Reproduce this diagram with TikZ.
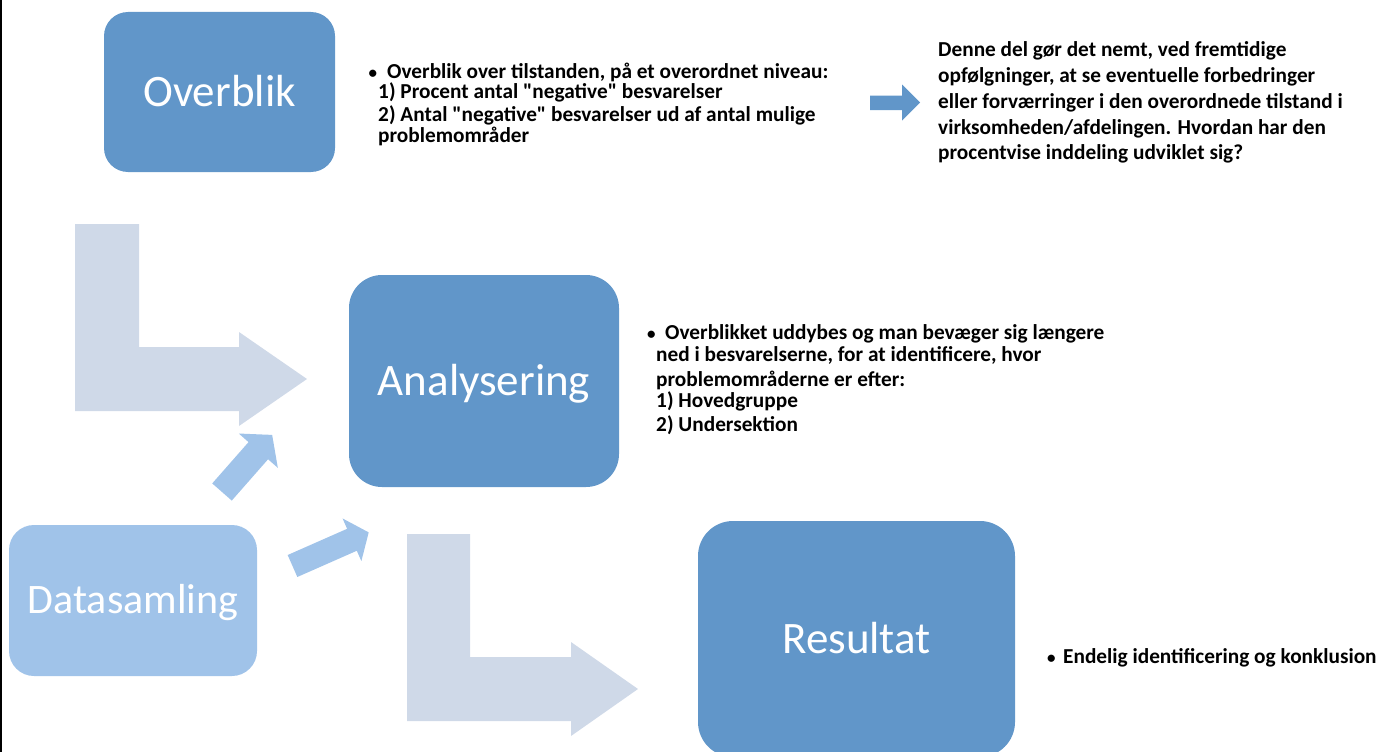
\documentclass[tikz,border=0pt]{standalone}
\usepackage{fontspec}
\newfontfamily\calfont{Carlito}
\definecolor{boxblue}{RGB}{97,150,201}
\definecolor{lightblue}{RGB}{160,195,233}
\definecolor{lgrey}{RGB}{207,217,232}
\tikzset{
  box/.style={rectangle, fill=boxblue, draw=none, text=white,
    font=\calfont\fontsize{45}{54}\selectfont, text height=28.8pt, text depth=0pt, inner sep=0pt},
  txt/.style={anchor=base west, inner sep=0pt, text=black, font=\calfont\bfseries\fontsize{21.3}{25}\selectfont},
  bent/.style={fill=lgrey, draw=none},
  small/.style={fill=lightblue, draw=none},
}
\newcommand{\bul}[2]{\makebox[0pt][l]{\hspace*{#1}\raisebox{-0.4pt}{\fontsize{17}{17}\bfseries\selectfont •}}\hspace*{#2}}
\newcommand{\lineblock}[2]{\vtop{\baselineskip=#1\relax\lineskiplimit=-\maxdimen\lineskip=0pt #2}}
\begin{document}
\begin{tikzpicture}[x=1pt,y=-1pt]
\useasboundingbox (0,0) rectangle (1392,752);
\clip (0,0) rectangle (1392,752);
\fill[black] (0,0) rectangle (2,752);

% bent arrows
\fill[bent] (75,224) -- (139,224) -- (139,347) -- (239,347) -- (239,332) -- (307,379)
  -- (239,426) -- (239,411) -- (75,411) -- cycle;
\fill[bent] (407,534) -- (470,534) -- (470,657) -- (571,657) -- (571,642) -- (638,689)
  -- (571,736) -- (571,721) -- (407,721) -- cycle;

% small arrows from Datasamling
\begin{scope}[shift={(222,492)}, rotate=48.7]
  \fill[small] (0,-13) -- (55,-13) -- (55,-26) -- (76,0) -- (55,26) -- (55,13) -- (0,13) -- cycle;
\end{scope}
\begin{scope}[shift={(292.5,566)}, rotate=23.8]
  \fill[small] (0,-12) -- (65,-12) -- (65,-23.3) -- (83.3,0) -- (65,23.3) -- (65,12) -- (0,12) -- cycle;
\end{scope}

% top blue arrow
\fill[boxblue] (870,95.5) -- (902,95.5) -- (902,84.5) -- (920,102.5) -- (902,120.5)
  -- (902,110) -- (870,110) -- cycle;

% boxes
\node[box, minimum width=231pt, minimum height=160pt, rounded corners=24pt] (overblik) at (219.5,92) {Overblik};
\node[box, minimum width=270pt, minimum height=212pt, rounded corners=33pt] (analyse) at (484,381) {Analysering};
\node[box, fill=lightblue, minimum width=248pt, minimum height=151pt, rounded corners=25pt,
  font=\calfont\fontsize{42}{50}\selectfont, text height=26.9pt] (data) at (133,600.5) {Datasamling};
\node[box, minimum width=317pt, minimum height=236pt, rounded corners=35pt] (result) at (856.5,639) {Resultat};

% texts
\node[txt] (t1) at (378,78) {\lineblock{20pt}{%
\hbox{\bul{-9.5pt}{9pt}Overblik over tilstanden, på et overordnet niveau:}
\hbox{1) Procent antal "negative" besvarelser}\vskip3pt
\hbox{2) Antal "negative" besvarelser ud af antal mulige}\vskip1pt
\hbox{problemområder}}};

\node[txt] (t0) at (938,56.7) {\lineblock{25.8pt}{%
\hbox{Denne del gør det nemt, ved fremtidige}
\hbox{opfølgninger, at se eventuelle forbedringer}
\hbox{eller forværringer i den overordnede tilstand i}
\hbox{virksomheden/afdelingen. Hvordan har den}
\hbox{procentvise inddeling udviklet sig?}}};

\node[txt] (t2) at (656,339) {\lineblock{21pt}{%
\hbox{\bul{-9pt}{9pt}Overblikket uddybes og man bevæger sig længere}\vskip1.5pt
\hbox{ned i besvarelserne, for at identificere, hvor}\vskip4pt
\hbox{problemområderne er efter:}
\hbox{1) Hovedgruppe}\vskip3pt
\hbox{2) Undersektion}}};

\node[txt] (t3) at (1063,663) {\bul{-16pt}{0pt}Endelig identificering og konklusion};
\end{tikzpicture}
\end{document}
